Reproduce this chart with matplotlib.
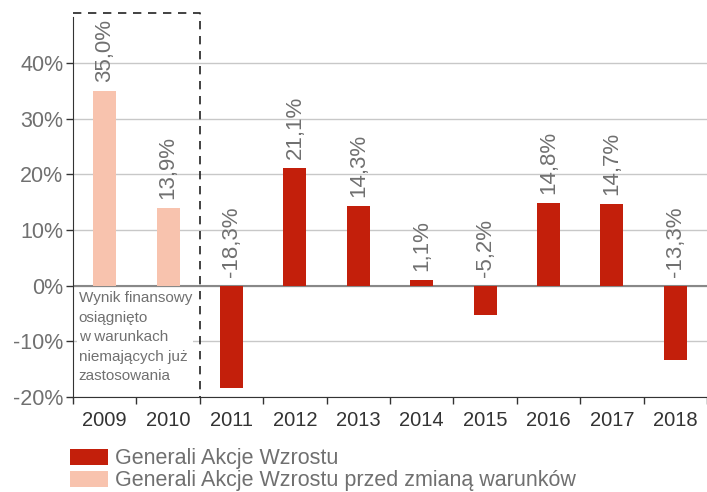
import matplotlib
matplotlib.use("Agg")
import matplotlib.pyplot as plt
from matplotlib.patches import Patch

years = ["2009", "2010", "2011", "2012", "2013", "2014", "2015", "2016", "2017", "2018"]
values = [35.0, 13.9, -18.3, 21.1, 14.3, 1.1, -5.2, 14.8, 14.7, -13.3]
labels = ["35,0%", "13,9%", "-18,3%", "21,1%", "14,3%", "1,1%", "-5,2%", "14,8%", "14,7%", "-13,3%"]
old_conditions = [True, True, False, False, False, False, False, False, False, False]
yticks = [-20, -10, 0, 10, 20, 30, 40]
ytick_labels = ["-20%", "-10%", "0%", "10%", "20%", "30%", "40%"]
legend_labels = ["Generali Akcje Wzrostu", "Generali Akcje Wzrostu przed zmianą warunków"]
note = "Wynik finansowy\nosiągnięto\nw warunkach\nniemających już\nzastosowania"

RED = "#C31F0B"
LIGHT = "#F8C3AE"
GRAY = "#707070"

plt.rcParams['font.family'] = ['Liberation Sans', 'DejaVu Sans']

fig = plt.figure(figsize=(7.07, 4.92), dpi=100)
ax = fig.add_axes([73/707, 95/492, 634/707, 380/492])

x = list(range(len(years)))
colors = [LIGHT if o else RED for o in old_conditions]
ax.bar(x, values, width=0.36, color=colors, zorder=3)

for xi, v, lab in zip(x, values, labels):
    ax.text(xi, max(v, 0) + 1.6, lab, rotation=90, ha='center', va='bottom',
            fontsize=16, color=GRAY, zorder=4)

ax.set_xlim(-0.5, 9.37)
ax.set_ylim(-20, 48.3)
ax.set_yticks(yticks)
ax.set_yticklabels(ytick_labels, fontsize=15.5, color=GRAY)
ax.set_xticks([i + 0.5 for i in range(-1, 10)], minor=False)
ax.set_xticklabels([])
ax.set_xticks(x, minor=True)
ax.set_xticklabels(years, minor=True, fontsize=14.5, color="#333333")
ax.tick_params(axis='x', which='minor', length=0, pad=10)
ax.tick_params(axis='x', which='major', length=5, width=1, color="#333333", direction='out')
ax.tick_params(axis='y', length=5, width=1, color="#333333", direction='out', pad=2)

ax.grid(axis='y', color="#C8C8C8", linewidth=1, zorder=0)
ax.axhline(0, color="#888888", linewidth=1.5, zorder=2)

for s in ['top', 'right']:
    ax.spines[s].set_visible(False)
ax.spines['left'].set_color("#333333")
ax.spines['bottom'].set_color("#333333")
ax.spines['bottom'].set_zorder(5)

# dashed box around 2009-2010
ax.plot([-0.5, 1.5, 1.5], [49.0, 49.0, -20], color="#222222", linestyle=(0, (5, 4)),
        linewidth=1.2, clip_on=False, zorder=5)

ax.text(-0.41, -1.0, note, ha='left', va='top', fontsize=11, color=GRAY,
        linespacing=1.5, zorder=4,
        bbox=dict(facecolor='white', edgecolor='none', pad=1))

handles = [Patch(facecolor=RED, edgecolor='none'), Patch(facecolor=LIGHT, edgecolor='none')]
fig.legend(handles, legend_labels, loc='lower left', bbox_to_anchor=(0.081, -0.025),
           frameon=False, fontsize=15.5, labelcolor=GRAY, handlelength=1.75, handleheight=0.75,
           handletextpad=0.35, labelspacing=0.05, borderaxespad=0.2)

fig.savefig("out.png", dpi=100)
